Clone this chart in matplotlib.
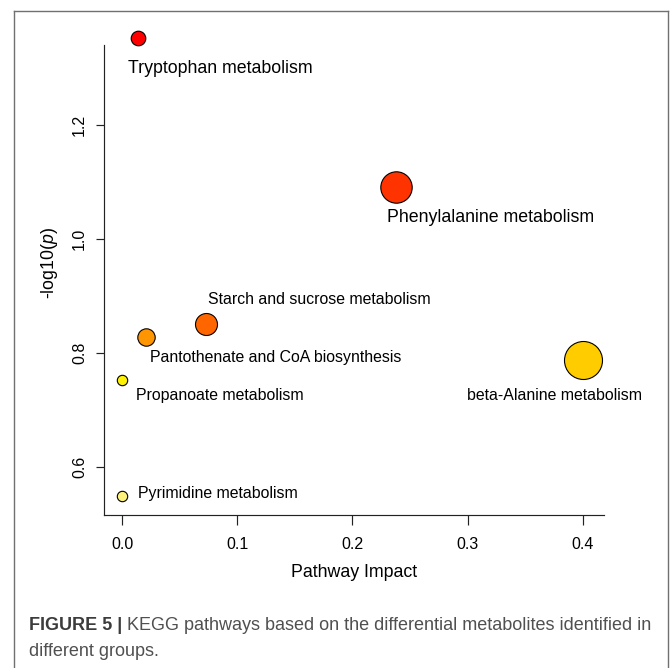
import matplotlib
matplotlib.use("Agg")
import matplotlib.pyplot as plt
from matplotlib.lines import Line2D

plt.rcParams['font.family'] = ['Liberation Sans', 'DejaVu Sans']
plt.rcParams['mathtext.fontset'] = 'custom'
plt.rcParams['mathtext.rm'] = 'Liberation Sans'
plt.rcParams['mathtext.it'] = 'Liberation Sans:italic'

# KEGG pathway enrichment results
pathways = [
    'Tryptophan metabolism',
    'Phenylalanine metabolism',
    'Starch and sucrose metabolism',
    'Pantothenate and CoA biosynthesis',
    'beta-Alanine metabolism',
    'Propanoate metabolism',
    'Pyrimidine metabolism',
]
impact = [0.014, 0.238, 0.073, 0.021, 0.400, 0.000, 0.000]
neg_log_p = [1.353, 1.092, 0.851, 0.828, 0.787, 0.752, 0.549]

x_ticks = [0.0, 0.1, 0.2, 0.3, 0.4]
y_ticks = [0.6, 0.8, 1.0, 1.2]

# styling per bubble
colors = ['#ff0000', '#ff3300', '#ff6600', '#ff9500', '#ffcc00', '#fff200', '#fff27a']
radius_px = [7.3, 15.7, 11.0, 8.7, 19.0, 5.2, 5.2]
label_offset_px = [(-10, -35), (-9, -35), (2, 20), (4, -25), (-116, -40), (14, -20), (16, -2)]
label_size = [12.8, 12.8, 11.4, 11.4, 11.4, 11.4, 11.4]

W, H = 672, 668
fig = plt.figure(figsize=(W / 100, H / 100), dpi=100)

# axes box in pixels: left 104, right 604, top 45, bottom 514.5
ax = fig.add_axes([104.3 / W, 1 - 514.5 / H, (604 - 104.3) / W, (514.5 - 45) / H])
ax.set_xlim(-0.0156, 0.4185)
ax.set_ylim(0.516, 1.3405)

for i in range(len(pathways)):
    d = 2 * radius_px[i] * 0.72
    ax.scatter(impact[i], neg_log_p[i], s=d ** 2, color=colors[i],
               edgecolors='black', linewidths=0.8, zorder=3, clip_on=False)
    dx, dy = label_offset_px[i]
    ax.annotate(pathways[i], (impact[i], neg_log_p[i]),
                xytext=(dx * 0.72, dy * 0.72), textcoords='offset points',
                ha='left', va='baseline', fontsize=label_size[i], color='black',
                annotation_clip=False)

for side in ['top', 'right']:
    ax.spines[side].set_visible(False)
for side in ['left', 'bottom']:
    ax.spines[side].set_linewidth(0.85)
    ax.spines[side].set_color('#222222')

ax.set_xticks(x_ticks)
ax.set_xticklabels(['%.1f' % v for v in x_ticks])
ax.set_yticks(y_ticks)
ax.set_yticklabels(['%.1f' % v for v in y_ticks], va='center')
ax.tick_params(axis='x', length=7, width=0.85, color='#222222', pad=9.2, labelsize=11.5)
ax.tick_params(axis='y', length=6, width=0.85, color='#222222', pad=6.3, labelsize=11.5,
               labelrotation=90)

ax.set_xlabel('Pathway Impact', fontsize=12.8, va='baseline')
ax.xaxis.set_label_coords(0.5, -0.1337)
ax.set_ylabel(r'-log10($\mathit{p}$)', fontsize=12.8, va='center')
ax.yaxis.set_label_coords(-0.109, 0.535)

# open-bottom frame around the figure panel
frame = dict(color='#707070', linewidth=1.0, transform=fig.transFigure)
fig.add_artist(Line2D([14 / W, 14 / W], [0, 1 - 10.5 / H], **frame))
fig.add_artist(Line2D([14 / W, 668 / W], [1 - 10.5 / H, 1 - 10.5 / H], **frame))
fig.add_artist(Line2D([668 / W, 668 / W], [0, 1 - 10.5 / H], **frame))

# caption
cap_size = 13.0
bold = fig.text(29 / W, 1 - 630 / H, 'FIGURE 5 | ', fontsize=cap_size, fontweight='bold',
                color='#3c3c3c', va='baseline', ha='left')
fig.canvas.draw()
bb = bold.get_window_extent()
fig.text(bb.x1 / W, 1 - 630 / H,
         'KEGG pathways based on the differential metabolites identified in',
         fontsize=cap_size, color='#505050', va='baseline', ha='left')
fig.text(29 / W, 1 - 656 / H, 'different groups.', fontsize=cap_size, color='#505050',
         va='baseline', ha='left')

fig.savefig('out.png', dpi=100)
